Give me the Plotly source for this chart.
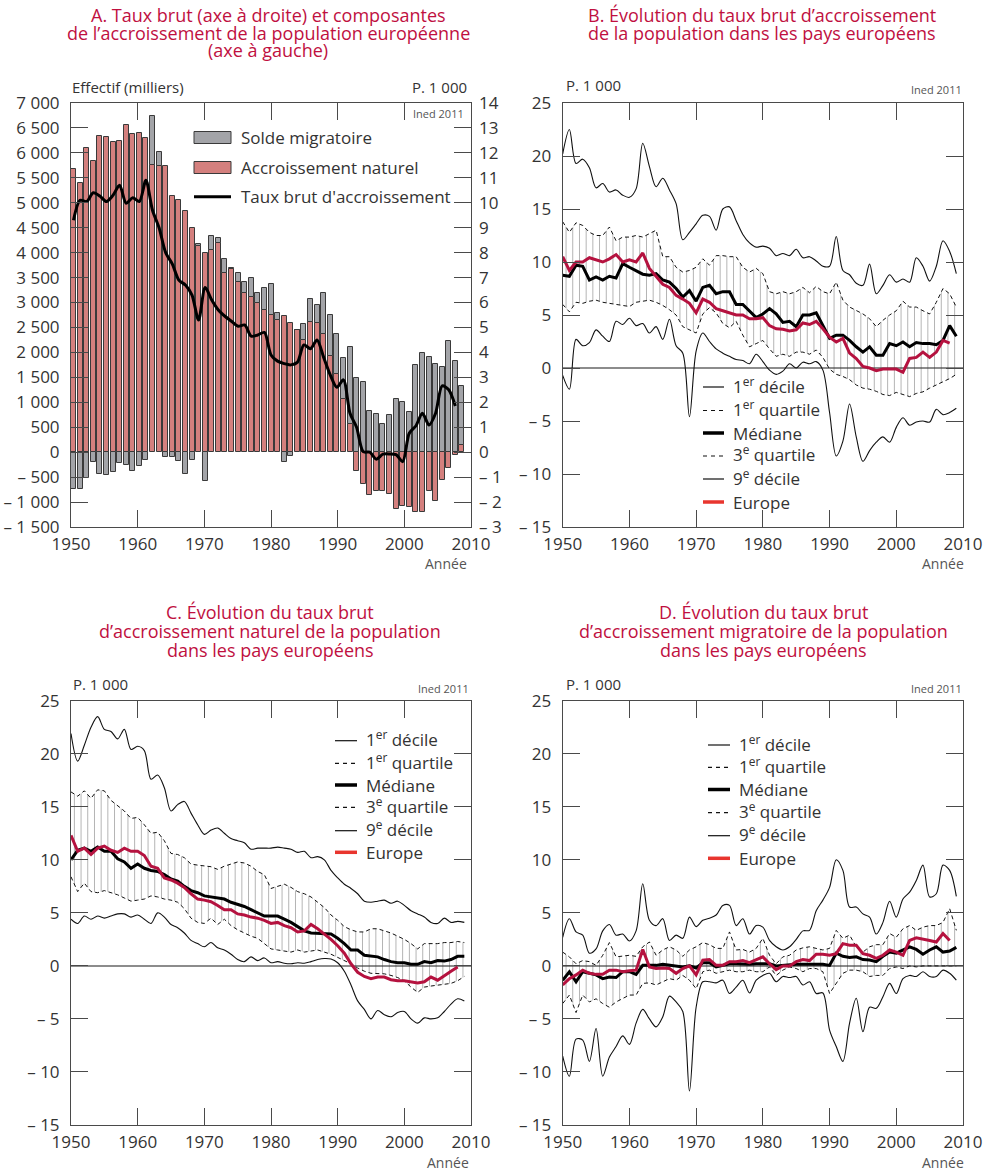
import plotly.graph_objects as go

W, H = 988, 1171
years = list(range(1950, 2010))

# ---- A: composantes (milliers) et taux brut (p. 1000)
natural = [5680, 5400, 6095, 5841, 6329, 6315, 6215, 6235, 6563, 6376,
           6396, 6302, 5750, 5740, 5730, 5139, 5046, 4845, 4504, 4137,
           4000, 4060, 4190, 3600, 3670, 3408, 3190, 3110, 3000, 2850,
           2753, 2640, 2740, 2593, 2446, 2239, 2613, 2593, 2372, 1938,
           1575, 1060, 560, -368, -635, -860, -775, -769, -830, -1145,
           -1080, -1105, -1205, -1205, -770, -977, -556, -321, -47, 147]
migration = [-735, -735, -515, -200, -434, -448, -401, -214, -247, -381,
             -267, -147, 990, 270, -90, -100, -167, -434, -154, 40,
             -580, 270, 110, 265, 20, 185, 215, 380, 200, 440,
             609, 153, -187, -67, 0, 327, 461, 354, 822, 822,
             800, 820, 1550, 1484, 1410, 830, 775, 560, 745, 1075,
             1000, 808, 1755, 1980, 1915, 1775, 1702, 2224, 1835, 1183]
rate = [9.3, 10.1, 10.05, 10.4, 10.27, 10.05, 10.3, 10.7, 9.98, 10.2,
        10.05, 10.9, 9.7, 9.0, 8.0, 7.55, 6.9, 6.7, 6.3, 5.3,
        6.6, 6.1, 5.7, 5.45, 5.25, 5.05, 5.1, 4.65, 4.7, 4.8,
        3.9, 3.65, 3.55, 3.5, 3.6, 4.3, 4.15, 4.5, 3.8, 3.1,
        2.6, 2.9, 1.56, 1.0, 0.02, 0.0, -0.28, -0.08, -0.07, -0.1,
        -0.38, 0.76, 1.05, 1.56, 1.09, 1.56, 2.66, 2.5, 1.85]

# ---- B: taux brut d'accroissement
b_d9 = [20.2, 22.5, 19.3, 19.7, 18.9, 17.0, 17.4, 16.6, 16.8, 16.3,
        16.1, 16.9, 21.2, 19.0, 17.1, 17.9, 16.8, 15.5, 12.1, 12.8,
        13.6, 14.4, 14.3, 13.0, 15.0, 15.2, 13.9, 12.6, 11.8, 11.4,
        11.5, 11.3, 10.6, 10.8, 10.6, 11.2, 10.4, 10.5, 10.1, 9.6,
        9.6, 12.4, 9.2, 8.8, 8.0, 7.8, 9.8, 7.0, 7.8, 8.8,
        8.1, 8.4, 8.1, 10.4, 9.6, 8.2, 9.6, 12.0, 11.0, 8.9]
b_q3 = [13.8, 12.8, 13.7, 13.45, 12.8, 12.5, 12.5, 13.3, 12.0, 12.35,
        12.35, 12.5, 12.35, 12.7, 13.0, 10.5, 10.5, 9.5, 9.05, 9.2,
        9.5, 10.3, 9.7, 10.6, 10.6, 10.5, 10.5, 9.5, 9.05, 9.4,
        8.9, 7.2, 7.0, 7.2, 7.0, 7.2, 7.6, 7.1, 7.7, 7.2,
        7.0, 8.1, 6.4, 5.75, 5.4, 5.1, 4.65, 3.9, 4.5, 5.0,
        5.4, 6.3, 5.75, 5.75, 5.4, 5.1, 6.2, 7.5, 7.0, 5.75]
b_med = [8.75, 8.65, 9.7, 9.6, 8.3, 8.6, 8.3, 8.65, 8.5, 9.85,
         9.5, 9.15, 8.85, 8.75, 8.9, 8.3, 8.1, 7.5, 6.7, 7.3,
         6.3, 7.6, 7.8, 7.0, 7.2, 7.2, 6.0, 6.0, 5.4, 4.75,
         5.1, 5.6, 5.1, 4.3, 4.4, 3.9, 5.0, 5.0, 5.2, 4.0,
         2.8, 3.1, 3.1, 2.6, 2.0, 1.5, 2.0, 1.2, 1.2, 2.3,
         2.1, 2.45, 2.0, 2.4, 2.3, 2.3, 2.2, 2.6, 4.0, 3.0]
b_q1 = [6.0, 5.3, 6.2, 6.1, 6.3, 6.4, 6.2, 6.1, 6.0, 5.9,
        5.8, 6.2, 6.3, 6.4, 6.2, 5.9, 5.5, 5.0, 3.9, 3.6,
        3.3, 5.1, 5.7, 5.2, 4.2, 3.8, 4.4, 3.1, 2.0, 2.3,
        2.6, 1.8, 1.1, 1.3, 1.1, 1.5, 1.5, 1.3, 1.7, 1.0,
        -0.1, -0.6, -0.8, -1.1, -1.6, -1.9, -2.0, -2.2, -2.5, -2.6,
        -2.3, -2.5, -2.7, -2.4, -2.25, -1.9, -1.6, -1.3, -1.0, -0.6]
b_d1 = [-0.7, -2.0, 2.7, 2.1, 2.4, 3.6, 3.0, 2.5, 4.4, 4.1,
        4.7, 4.0, 4.2, 3.3, 3.9, 2.7, 4.6, 2.1, 1.4, -4.6,
        1.6, 3.3, 2.5, 1.8, 1.4, 1.1, 0.8, 0.7, 0.4, 1.3,
        0.6, -0.2, -0.6, -0.3, 0.4, 0.0, 0.55, 0.4, 0.6, -0.2,
        -4.2, -8.3, -6.9, -3.4, -6.5, -8.8, -7.8, -7.0, -6.5, -7.0,
        -5.6, -4.7, -5.4, -5.1, -5.0, -5.1, -3.9, -4.4, -4.2, -3.8]
b_eu = [10.5, 9.2, 10.0, 10.0, 10.4, 10.2, 10.0, 10.3, 10.7, 10.0,
        10.2, 10.0, 10.85, 9.4, 8.6, 7.9, 7.6, 6.85, 6.5, 6.1,
        5.2, 6.5, 6.2, 5.6, 5.4, 5.2, 5.0, 5.0, 4.65, 4.65,
        4.75, 4.0, 3.7, 3.65, 3.5, 3.6, 4.25, 4.1, 4.4, 3.7,
        2.9, 2.45, 2.8, 1.4, 0.9, 0.15, 0.0, -0.25, -0.1, -0.1,
        -0.1, -0.4, 0.9, 1.0, 1.5, 1.0, 1.5, 2.6, 2.35]

# ---- C: accroissement naturel
c_d9 = [21.9, 19.3, 20.8, 22.5, 23.5, 22.3, 22.1, 21.4, 22.3, 20.4,
        20.7, 20.3, 17.6, 18.0, 16.8, 14.6, 15.2, 15.5, 14.4, 13.3,
        12.4, 12.8, 13.0, 12.5, 12.0, 11.8, 11.6, 11.0, 11.1, 11.1,
        11.1, 11.2, 11.1, 11.0, 10.7, 10.8, 10.2, 10.3, 10.0, 9.0,
        8.3, 7.7, 7.3, 6.8, 6.1, 6.0, 6.1, 6.2, 5.9, 6.1,
        5.7, 5.2, 4.9, 4.6, 4.1, 4.0, 4.5, 4.1, 4.2, 4.1]
c_q3 = [16.4, 16.0, 16.5, 15.8, 16.6, 16.5, 15.6, 15.1, 14.6, 13.9,
        14.0, 13.3, 12.5, 12.6, 11.8, 10.6, 10.5, 10.2, 9.6, 9.5,
        9.4, 9.35, 9.1, 9.4, 9.6, 9.8, 9.7, 9.4, 8.9, 8.6,
        7.3, 7.5, 7.7, 7.4, 7.0, 6.8, 6.5, 6.0, 5.5, 4.8,
        4.3, 3.7, 3.4, 3.2, 3.2, 3.5, 3.5, 3.3, 3.1, 2.8,
        2.5, 2.1, 1.6, 2.1, 2.1, 2.1, 2.2, 2.2, 2.3, 2.2]
c_med = [10.0, 10.9, 11.1, 10.8, 11.2, 10.8, 10.8, 10.1, 9.8, 9.2,
         9.6, 9.2, 9.0, 8.9, 8.6, 8.2, 8.0, 7.5, 7.1, 6.9,
         6.6, 6.5, 6.4, 6.3, 6.0, 5.8, 5.6, 5.3, 5.0, 4.7,
         4.7, 4.7, 4.4, 4.1, 3.7, 3.3, 3.1, 3.05, 3.0, 3.0,
         2.6, 2.1, 1.5, 1.5, 1.0, 0.9, 0.85, 0.6, 0.4, 0.3,
         0.3, 0.15, 0.15, 0.4, 0.3, 0.5, 0.45, 0.6, 0.9, 0.9]
c_q1 = [8.4, 7.0, 7.8, 7.0, 6.9, 7.1, 6.9, 6.7, 6.4, 6.1,
        6.2, 6.3, 6.6, 6.5, 6.3, 6.2, 6.0, 5.4, 4.5, 4.1,
        4.0, 4.5, 3.9, 4.4, 3.8, 3.4, 3.1, 2.8, 2.6, 2.1,
        1.6, 1.5, 1.4, 1.3, 1.5, 1.3, 1.4, 1.5, 1.3, 1.1,
        0.8, 0.5, 0.2, -0.2, -0.5, -0.7, -0.7, -0.75, -0.9, -1.1,
        -1.4, -2.0, -2.5, -2.0, -1.9, -1.8, -1.75, -1.65, -1.4, -1.0]
c_d1 = [4.4, 4.0, 4.7, 4.4, 4.7, 4.5, 4.7, 4.9, 4.9, 4.6,
        4.8, 4.4, 4.0, 5.0, 4.6, 3.9, 3.6, 3.1, 2.4, 2.1,
        1.8, 2.2, 1.7, 1.5, 1.1, 0.6, 0.4, 0.85, 0.5, 0.75,
        0.3, 0.4, 0.25, 0.2, 0.3, 0.25, 0.4, 0.6, 0.7, 0.65,
        0.3, -0.5, -1.8, -3.3, -4.1, -5.0, -4.2, -4.6, -4.8, -4.4,
        -4.3, -5.0, -5.4, -4.9, -5.0, -4.9, -4.3, -3.6, -3.1, -3.3]
c_eu = [12.3, 10.8, 11.1, 10.5, 11.1, 11.3, 10.9, 10.7, 11.1, 10.8,
        10.8, 10.4, 9.4, 9.2, 8.3, 8.1, 7.8, 7.4, 6.8, 6.3,
        6.2, 6.05, 5.7, 5.3, 5.3, 4.9, 4.8, 4.6, 4.5, 4.3,
        4.0, 4.1, 3.8, 3.6, 3.2, 3.3, 3.9, 3.5, 3.0, 2.5,
        1.9, 1.2, 0.2, -0.6, -1.0, -1.2, -1.05, -1.05, -1.3, -1.4,
        -1.4, -1.5, -1.6, -1.5, -1.05, -1.35, -0.9, -0.5, -0.1]

# ---- D: accroissement migratoire
d_d9 = [2.7, 4.45, 3.2, 2.9, 1.2, 1.6, 3.3, 3.9, 2.9, 3.0,
        2.35, 3.3, 7.75, 4.3, 3.8, 4.45, 2.4, 2.9, 2.6, 4.6,
        3.7, 4.3, 4.5, 4.8, 5.7, 5.7, 3.8, 4.45, 3.0, 3.8,
        3.65, 2.4, 1.8, 1.5, 1.8, 2.5, 3.3, 3.35, 5.2, 6.2,
        7.4, 10.0, 9.0, 5.55, 5.55, 4.9, 4.6, 3.0, 4.1, 6.1,
        4.6, 6.3, 6.95, 8.05, 9.5, 6.5, 6.8, 9.5, 9.0, 6.55]
d_q3 = [1.3, 0.85, 0.2, 0.5, 0.4, 0.05, 1.0, 2.2, 0.85, 0.9,
        1.0, 0.9, 1.8, 2.25, 1.0, 1.5, 1.8, 1.5, 0.9, 1.5,
        1.8, 2.2, 2.0, 1.65, 1.65, 3.2, 1.5, 1.55, 1.3, 1.65,
        2.6, 1.0, 0.2, 0.85, 1.0, 1.5, 1.7, 1.8, 1.65, 1.5,
        1.65, 3.35, 2.6, 2.9, 1.8, 1.3, 1.8, 2.0, 2.0, 3.05,
        2.7, 3.5, 3.8, 3.35, 3.65, 3.8, 3.8, 4.1, 5.4, 3.35]
d_med = [-1.35, -0.55, -1.5, -0.55, -0.7, -0.85, -1.2, -1.05, -1.1, -0.55,
         -0.55, -0.8, 0.05, 0.05, 0.05, 0.15, 0.05, 0.0, -0.1, 0.0,
         -0.2, 0.3, 0.3, -0.1, 0.05, 0.2, 0.2, 0.15, 0.15, 0.2,
         0.2, 0.2, 0.0, 0.05, 0.15, 0.15, 0.15, 0.15, 0.15, 0.15,
         0.05, 1.2, 0.9, 0.8, 0.85, 0.6, 0.55, 0.4, 0.9, 1.3,
         1.2, 1.5, 1.8, 1.55, 1.1, 1.5, 1.8, 1.3, 1.4, 1.75]
d_q1 = [-3.55, -2.75, -4.4, -2.75, -3.4, -3.1, -3.55, -3.9, -3.4, -3.1,
        -2.75, -2.75, -1.65, -1.6, -1.8, -1.5, -1.2, -1.35, -0.9, -1.35,
        -2.15, -0.55, -0.4, -0.7, -0.55, -0.4, -0.55, -0.55, -0.4, -0.55,
        -0.55, -0.1, -0.9, -0.4, -0.1, -0.25, -0.55, -0.25, -0.25, -0.55,
        -2.6, -1.65, -0.7, -0.4, -0.4, -0.55, -1.0, -0.9, -0.9, -0.25,
        -0.1, -0.25, 0.0, -0.1, 0.0, 0.0, 0.0, 0.0, 0.0, 0.0]
d_d1 = [-8.5, -10.4, -6.9, -7.0, -9.0, -5.9, -10.4, -8.6, -7.6, -6.6,
        -7.4, -5.4, -4.1, -5.0, -5.75, -4.8, -2.85, -3.4, -4.3, -11.8,
        -3.9, -1.5, -1.5, -1.6, -1.35, -2.6, -2.0, -1.35, -2.55, -1.35,
        -0.9, -0.7, -1.5, -1.0, -1.1, -1.0, -1.8, -1.5, -2.6, -2.55,
        -6.05, -7.6, -9.0, -5.4, -3.05, -6.2, -3.9, -4.0, -2.9, -1.65,
        -2.6, -1.2, -0.9, -1.0, -0.55, -1.0, -1.0, -0.4, -0.7, -1.35]
d_eu = [-1.8, -1.2, -0.85, -0.4, -0.7, -0.8, -0.8, -0.4, -0.4, -0.55,
        -0.45, -0.4, 1.55, -0.1, -0.25, -0.2, -0.25, -0.7, -0.25, 0.0,
        -0.85, 0.55, 0.6, 0.05, 0.05, 0.4, 0.4, 0.5, 0.3, 0.55,
        0.85, 0.2, -0.35, 0.0, 0.0, 0.4, 0.6, 0.5, 1.1, 1.1,
        1.0, 1.15, 2.1, 1.95, 1.95, 1.15, 1.0, 0.7, 1.0, 1.5,
        1.3, 1.0, 2.4, 2.65, 2.55, 2.4, 2.25, 3.05, 2.4]

# ticks
x_ticks = [1950, 1960, 1970, 1980, 1990, 2000, 2010]
a_left_vals = list(range(-1500, 7001, 500))
a_left_text = ["\u2013 1 500", "\u2013 1 000", "\u2013 500", "0", "500", "1 000", "1 500",
               "2 000", "2 500", "3 000", "3 500", "4 000", "4 500", "5 000", "5 500",
               "6 000", "6 500", "7 000"]
a_right_vals = list(range(-3, 15))
a_right_text = ["\u2013 3", "\u2013 2", "\u2013 1", "0", "1", "2", "3", "4", "5", "6",
                "7", "8", "9", "10", "11", "12", "13", "14"]
rate_vals = [-15, -10, -5, 0, 5, 10, 15, 20, 25]
rate_text = ["\u2013 15", "\u2013 10", "\u2013 5", "0", "5", "10", "15", "20", "25"]

legend_labels = ["1<sup>er</sup> décile", "1<sup>er</sup> quartile", "Médiane",
                 "3<sup>e</sup> quartile", "9<sup>e</sup> décile", "Europe"]

title_a = ["A. Taux brut (axe à droite) et composantes",
           "de l’accroissement de la population européenne", "(axe à gauche)"]
title_b = ["B. Évolution du taux brut d’accroissement",
           "de la population dans les pays européens"]
title_c = ["C. Évolution du taux brut", "d’accroissement naturel de la population",
           "dans les pays européens"]
title_d = ["D. Évolution du taux brut", "d’accroissement migratoire de la population",
           "dans les pays européens"]

TITLE = "#C0103F"
EU = "#B5123F"
EU_KEY = "#E8352E"
AX = "#4a4a4a"
TXT = "#333333"
FONT = "Open Sans, Noto Sans, sans-serif"

A_X = (71, 471)
B_X = (562.7, 963)


def px(x):
    return x / W


def py(y):
    return 1 - y / H


fig = go.Figure()

# keeps the main A subplot (axis box, ticks, labels) alive
fig.add_trace(go.Scatter(x=[1950], y=[None], xaxis="x", yaxis="y", mode="lines",
                         hoverinfo="skip"))
# A -- bars sit on a hidden x axis (bars fill the 1950-2010 span slightly compressed)
fig.add_trace(go.Bar(x=years, y=natural, xaxis="x2", yaxis="y", width=0.76,
                     marker=dict(color="#D4807E", line=dict(color="#3a3a3a", width=1))))
fig.add_trace(go.Bar(x=years, y=migration, xaxis="x2", yaxis="y", width=0.76,
                     marker=dict(color="#A3A4A8", line=dict(color="#3a3a3a", width=1))))
fig.add_trace(go.Scatter(x=years[:len(rate)], y=rate, xaxis="x2", yaxis="y2", mode="lines",
                         line=dict(color="black", width=3, shape="spline", smoothing=0.8)))


def add_panel(xa, ya, d1, q1, med, q3, d9, eu):
    fig.add_trace(go.Scatter(x=years, y=q1, xaxis=xa, yaxis=ya, mode="lines",
                             line=dict(color="#111", width=1, dash="4px,3px")))
    fig.add_trace(go.Scatter(x=years, y=q3, xaxis=xa, yaxis=ya, mode="lines",
                             line=dict(color="#111", width=1, dash="4px,3px"),
                             fill="tonexty", fillcolor="rgba(0,0,0,0)",
                             fillpattern=dict(shape="|", size=6.7, solidity=0.11,
                                              fgcolor="#333", bgcolor="rgba(0,0,0,0)")))
    for s in (d1, d9):
        fig.add_trace(go.Scatter(x=years, y=s, xaxis=xa, yaxis=ya, mode="lines",
                                 line=dict(color="#111", width=1.1, shape="spline", smoothing=0.9)))
    fig.add_trace(go.Scatter(x=years, y=med, xaxis=xa, yaxis=ya, mode="lines",
                             line=dict(color="black", width=3)))
    fig.add_trace(go.Scatter(x=years[:len(eu)], y=eu, xaxis=xa, yaxis=ya, mode="lines",
                             line=dict(color=EU, width=3)))


add_panel("x3", "y3", b_d1, b_q1, b_med, b_q3, b_d9, b_eu)
add_panel("x4", "y4", c_d1, c_q1, c_med, c_q3, c_d9, c_eu)
add_panel("x5", "y5", d_d1, d_q1, d_med, d_q3, d_d9, d_eu)

tickfont = dict(family=FONT, size=17, color=TXT)


def xaxis(xs, anchor):
    return dict(domain=[px(xs[0]), px(xs[1])], anchor=anchor, range=[1950, 2010],
                tickvals=x_ticks, ticktext=[str(t) for t in x_ticks],
                ticks="inside", ticklen=17, tickcolor=AX, tickwidth=1,
                showline=True, linecolor=AX, linewidth=1, mirror="ticks",
                showgrid=False, zeroline=False, tickfont=tickfont,
                ticklabelstandoff=2, automargin=False, fixedrange=True)


def yaxis(y0, y1, anchor, rng, vals, text, zero):
    return dict(domain=[py(y1), py(y0)], anchor=anchor, range=rng,
                tickvals=vals, ticktext=text,
                ticks="inside", ticklen=17, tickcolor=AX, tickwidth=1,
                showline=True, linecolor=AX, linewidth=1, mirror="ticks",
                showgrid=False, zeroline=zero, zerolinecolor="#8c8c8c", zerolinewidth=1.5,
                tickfont=tickfont, ticklabelstandoff=7, automargin=False, fixedrange=True)


fig.update_layout(
    width=W, height=H, margin=dict(l=0, r=0, t=0, b=0, autoexpand=False),
    paper_bgcolor="white", plot_bgcolor="white",
    showlegend=False, barmode="relative", bargap=0,
    font=dict(family=FONT, color=TXT),
    xaxis=xaxis(A_X, "y"),
    xaxis2=dict(domain=[px(A_X[0]), px(A_X[1])], overlaying="x", range=[1949.62, 2010.38],
                visible=False, anchor="y", automargin=False, fixedrange=True),
    yaxis=yaxis(103, 527, "x", [-1500, 7000], a_left_vals, a_left_text, False),
    yaxis2=dict(domain=[py(527), py(103)], overlaying="y", side="right", anchor="x",
                range=[-3, 14], tickvals=a_right_vals, ticktext=a_right_text, ticks="",
                showline=False, showgrid=False, zeroline=False, tickfont=tickfont,
                ticklabelstandoff=7, automargin=False, fixedrange=True),
    xaxis3=xaxis(B_X, "y3"),
    yaxis3=yaxis(103, 527, "x3", [-15, 25], rate_vals, rate_text, True),
    xaxis4=xaxis(A_X, "y4"),
    yaxis4=yaxis(700.7, 1125, "x4", [-15, 25], rate_vals, rate_text, True),
    xaxis5=xaxis(B_X, "y5"),
    yaxis5=yaxis(700.7, 1125, "x5", [-15, 25], rate_vals, rate_text, True),
)

ann = []
shapes = []


def text(x, y, s, size=15, anchor="left", color=TXT, family=FONT, valign="middle"):
    ann.append(dict(x=px(x), y=py(y), xref="paper", yref="paper", text=s, showarrow=False,
                    xanchor=anchor, yanchor=valign, align="center", borderpad=0,
                    font=dict(family=family, size=size, color=color)))


# titles, one annotation per line to keep the tight line spacing
for cx, rows, lines in ((268, (15, 32.5, 50), title_a), (762, (15, 32.5), title_b),
                        (270, (612, 631, 650), title_c), (763, (612, 631, 650), title_d)):
    for yy, s in zip(rows, lines):
        text(cx, yy, s, size=18, anchor="center", color=TITLE)

# units and source
text(71, 87, "Effectif (milliers)", size=15)
text(468, 87, "P. 1 000", size=15, anchor="right")
text(465, 113, "Ined 2011", size=11, anchor="right", color="#555")
text(565, 85, "P. 1 000", size=15)
text(963, 90, "Ined 2011", size=11, anchor="right", color="#555")
text(72, 684, "P. 1 000", size=15)
text(470, 688, "Ined 2011", size=11, anchor="right", color="#555")
text(565, 684, "P. 1 000", size=15)
text(963, 688, "Ined 2011", size=11, anchor="right", color="#555")
for xr, yr in ((468, 563), (965, 563), (470, 1162), (965, 1162)):
    text(xr, yr, "Année", size=14, anchor="right", color="#555")

# legend A
shapes.append(dict(type="rect", xref="paper", yref="paper", x0=px(194), x1=px(231),
                   y0=py(143.5), y1=py(131.5), fillcolor="#A3A4A8", line=dict(color="#3a3a3a", width=1)))
shapes.append(dict(type="rect", xref="paper", yref="paper", x0=px(194), x1=px(231),
                   y0=py(173.5), y1=py(161.5), fillcolor="#D4807E", line=dict(color="#3a3a3a", width=1)))
shapes.append(dict(type="line", xref="paper", yref="paper", x0=px(194), x1=px(231),
                   y0=py(196.7), y1=py(196.7), line=dict(color="black", width=3)))
for yy, s in ((137.5, "Solde migratoire"), (167.5, "Accroissement naturel"),
              (196.5, "Taux brut d'accroissement")):
    text(240, yy, s, size=17)

# legends B, C, D
key_styles = [dict(color="#111", width=1.2), dict(color="#111", width=1.2, dash="4px,4px"),
              dict(color="black", width=3.5), dict(color="#111", width=1.2, dash="4px,4px"),
              dict(color="#111", width=1.2), dict(color=EU_KEY, width=3.5)]
legend_pos = [(703, 724, 732, [387, 410.5, 433, 456, 479, 502]),
              (335, 357, 365, [740.7, 763.3, 785, 807.3, 830.7, 852.3]),
              (708, 730, 738, [745, 767.3, 789.5, 812.7, 835.7, 858.3])]
for k0, k1, tx, rows in legend_pos:
    for yy, lab, st in zip(rows, legend_labels, key_styles):
        shapes.append(dict(type="line", xref="paper", yref="paper", x0=px(k0), x1=px(k1),
                           y0=py(yy), y1=py(yy), line=st))
        # labels with a superscript render taller: lift them a little
        lift = 2 if "<sup>" in lab else 0
        text(tx, yy - lift, lab, size=17)

fig.update_layout(annotations=ann, shapes=shapes)
fig.write_html("out.html", config={"displayModeBar": False},
               post_script="document.body.style.margin='0';")
